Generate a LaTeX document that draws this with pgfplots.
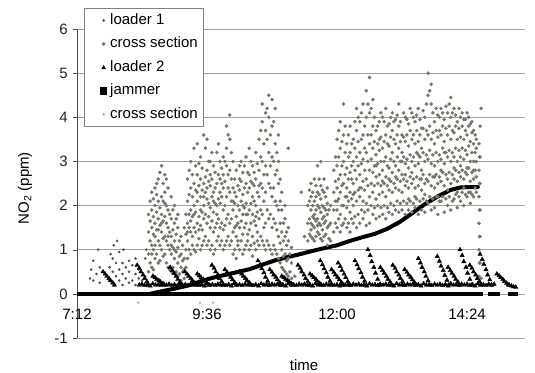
\documentclass[border=0pt]{standalone}
\usepackage{fontspec}
\setmainfont{Liberation Sans}
\usepackage{pgfplots}
\usepackage{pgfplotstable}
\pgfplotsset{compat=1.18}
\usetikzlibrary{calc}
\definecolor{csgray}{RGB}{118,118,104}
\definecolor{ldgray}{RGB}{80,80,75}
\definecolor{cs2gray}{RGB}{170,170,165}
\definecolor{gridgray}{RGB}{160,160,160}

\pgfplotstableread{
t a b c d e f
8.52 0.5 0.9 1.4 1.8 nan nan
8.58 0.6 1.1 1.5 1.9 2.3 0.9
8.64 0.8 1.3 1.6 2.0 2.4 1.1
8.70 0.7 1.2 1.7 2.1 2.6 1.45
8.76 1.0 1.4 1.8 2.2 2.9 1.6
8.82 0.9 1.3 1.75 2.3 2.7 2.05
8.88 0.6 1.1 1.5 1.9 2.4 1.3
8.94 0.5 0.9 1.3 1.7 2.2 1.1
9.00 0.45 0.8 1.2 1.6 2.0 1.0
9.06 0.4 0.7 1.05 1.5 1.8 nan
9.12 0.3 0.6 0.9 1.3 nan nan
9.18 0.35 0.55 0.8 1.5 nan nan
9.24 0.8 1.2 1.6 2.1 2.6 1.4
9.30 0.9 1.4 1.9 2.4 3.0 1.65
9.36 1.0 1.5 2.0 2.5 3.3 1.8
9.42 1.1 1.6 2.1 2.7 3.4 2.3
9.48 1.0 1.55 2.2 2.6 3.1 1.9
9.54 1.2 1.7 2.0 2.5 3.6 2.2
9.60 1.1 1.6 2.15 2.8 3.5 2.4
9.66 1.0 1.5 1.95 2.45 3.0 2.7
9.72 0.9 1.4 1.85 2.3 2.9 2.1
9.78 1.2 1.6 2.0 2.5 3.2 1.8
9.84 1.1 1.5 2.05 2.6 3.0 2.3
9.90 1.0 1.45 1.9 2.4 3.1 2.7
9.96 1.2 1.7 2.2 2.9 3.8 3.3
10.02 1.1 1.6 2.3 2.8 4.05 3.5
10.08 0.9 1.4 1.9 2.4 3.0 2.1
10.14 0.8 1.3 1.75 2.2 2.8 1.55
10.20 1.0 1.5 1.9 2.35 2.9 2.6
10.26 0.9 1.35 1.8 2.25 2.75 2.0
10.32 1.1 1.6 2.05 2.5 3.1 1.8
10.38 1.0 1.45 1.9 2.4 3.3 2.7
10.44 0.85 1.3 1.8 2.2 2.9 2.5
10.50 1.0 1.55 2.0 2.6 3.2 1.75
10.56 1.1 1.7 2.2 2.8 3.5 2.45
10.62 1.2 1.8 2.4 3.0 3.9 4.3
10.68 1.0 1.6 2.3 2.9 3.7 4.1
10.74 1.1 1.7 2.5 3.2 4.0 4.5
10.80 0.9 1.5 2.2 3.1 3.8 4.4
10.86 1.0 1.6 2.1 2.7 3.4 4.2
10.92 0.8 1.3 1.9 2.5 3.0 3.6
10.98 0.6 1.0 1.4 1.9 2.3 nan
11.04 0.5 0.9 1.3 1.7 2.0 nan
11.10 0.4 0.8 1.2 1.5 3.3 nan
11.16 0.35 0.7 1.05 nan nan nan
11.22 0.4 nan nan nan nan nan
11.34 0.5 2.3 nan nan nan nan
11.40 1.3 nan nan nan nan nan
11.46 1.2 1.6 2.0 nan nan nan
11.52 1.3 1.6 1.9 2.2 2.5 1.45
11.58 1.2 1.5 1.8 2.1 2.6 1.7
11.64 1.4 1.7 2.0 2.3 2.9 1.55
11.70 1.25 1.55 1.85 2.15 2.45 3.0
11.76 1.3 1.6 1.95 2.3 2.6 1.75
11.82 1.1 1.5 1.8 2.05 2.4 nan
11.88 1.2 1.6 2.0 nan nan nan
11.94 1.4 1.9 2.3 2.8 nan nan
12.00 1.5 1.9 2.4 2.9 3.5 2.1
12.06 1.4 1.8 2.3 2.7 3.3 3.9
12.12 1.6 2.0 2.5 3.0 3.6 4.3
12.18 1.5 1.95 2.4 2.85 3.4 2.2
12.24 1.4 1.85 2.3 2.75 3.2 3.8
12.30 1.6 2.0 2.5 3.0 3.5 2.25
12.36 1.5 2.1 2.6 3.1 3.7 4.2
12.42 1.6 2.2 2.7 3.2 3.9 2.4
12.48 1.7 2.1 2.55 3.05 3.6 4.3
12.54 1.55 2.05 2.6 3.2 4.0 4.6
12.60 1.6 2.2 2.8 3.4 4.1 4.9
12.66 1.8 2.3 2.75 3.3 3.8 4.4
12.72 1.7 2.15 2.65 3.15 3.7 2.9
12.78 1.75 2.25 2.7 3.25 3.9 3.5
12.84 1.8 2.3 2.8 3.3 4.0 2.55
12.90 1.7 2.2 2.65 3.1 3.6 4.2
12.96 1.85 2.35 2.85 3.35 3.85 2.6
13.02 1.8 2.3 2.75 3.2 3.7 4.1
13.08 1.9 2.4 2.9 3.4 3.95 2.65
13.14 1.85 2.35 2.8 3.3 3.8 4.3
13.20 1.9 2.3 2.7 3.2 3.6 3.0
13.26 1.8 2.45 2.95 3.45 4.0 2.7
13.32 1.9 2.4 2.85 3.35 3.85 2.15
13.38 1.85 2.5 3.0 3.5 4.1 2.75
13.44 1.95 2.4 2.9 3.4 3.9 2.2
13.50 1.8 2.45 2.95 3.45 4.2 3.15
13.56 1.9 2.35 2.8 3.3 3.75 2.6
13.62 1.85 2.5 3.0 3.5 4.0 2.25
13.68 2.05 2.55 3.05 3.6 4.5 5.0
13.74 1.9 2.45 2.95 3.5 4.3 4.75
13.80 1.95 2.4 2.9 3.4 3.9 2.65
13.86 1.8 2.5 3.0 3.55 4.05 2.2
13.92 2.1 2.55 3.05 3.6 4.2 2.8
13.98 1.85 2.45 2.95 3.45 3.95 3.2
14.04 2.0 2.6 3.1 3.6 4.1 2.35
14.10 1.9 2.5 3.0 3.5 4.45 4.0
14.16 2.15 2.6 3.1 3.65 4.2 2.85
14.22 1.95 2.55 3.0 3.5 3.9 2.3
14.28 2.1 2.65 3.1 3.55 4.0 2.9
14.34 2.0 2.6 3.05 3.5 3.95 2.4
14.40 2.2 2.7 3.15 3.6 4.1 2.85
14.46 2.05 2.55 3.0 3.45 3.85 2.3
14.52 2.2 2.6 3.0 3.4 3.7 2.8
14.57 2.3 2.65 3.0 3.3 3.5 nan
14.62 0.4 1.0 1.6 2.2 2.8 3.4
14.64 0.7 1.3 1.9 2.5 3.1 3.8
14.66 4.2 0.35 nan nan nan nan
}\cloud

\pgfplotstableread{
t a b c d e
8.55 0.7 1.2 1.65 2.1 nan
8.61 0.55 1.0 1.35 1.75 2.15
8.67 0.9 1.45 1.85 2.25 2.5
8.73 0.75 1.1 1.55 1.95 2.75
8.79 0.85 1.25 1.65 2.1 2.5
8.85 0.7 1.2 1.6 2.0 2.6
8.91 0.55 1.0 1.4 1.8 nan
8.97 0.6 1.05 1.45 1.9 nan
9.03 0.5 0.95 1.35 1.7 nan
9.09 0.45 0.85 1.2 nan nan
9.15 0.5 0.75 1.1 nan nan
9.21 0.6 1.0 1.35 1.8 nan
9.27 1.0 1.5 1.8 2.25 2.8
9.33 1.1 1.3 1.75 2.2 2.7
9.39 0.95 1.4 1.85 2.35 2.9
9.45 1.25 1.75 2.45 2.95 1.45
9.51 1.1 1.45 1.85 2.35 2.85
9.57 1.3 1.8 2.3 2.65 3.3
9.63 1.2 1.75 2.05 2.55 3.0
9.69 1.1 1.65 2.2 2.6 3.2
9.75 1.0 1.5 2.05 2.4 2.75
9.81 1.3 1.7 2.15 2.7 3.4
9.87 1.2 1.6 2.2 2.5 2.85
9.93 1.1 1.55 2.0 2.55 3.0
9.99 1.3 1.8 2.4 2.7 3.6
10.05 1.2 1.7 2.1 2.6 3.2
10.11 1.0 1.5 2.05 2.6 2.3
10.17 1.1 1.6 2.0 2.45 1.2
10.23 1.2 1.65 2.1 2.55 3.0
10.29 1.0 1.5 1.95 2.4 2.9
10.35 1.2 1.35 1.8 2.3 2.75
10.41 1.1 1.6 2.05 2.55 3.0
10.47 1.15 1.65 2.1 2.45 2.75
10.53 1.2 1.4 1.85 2.3 2.95
10.59 1.3 1.9 2.5 3.1 3.7
10.65 1.1 1.5 2.1 2.7 3.4
10.71 1.2 1.9 2.7 3.5 4.2
10.77 1.0 1.8 2.4 2.9 3.6
10.83 1.1 1.7 2.4 3.0 3.9
10.89 0.9 1.45 2.0 2.8 3.2
10.95 0.7 1.15 1.6 2.1 2.6
11.01 0.55 0.85 1.2 1.6 nan
11.07 0.45 0.75 1.1 1.4 nan
11.13 0.5 0.9 nan nan nan
11.49 1.35 1.7 2.1 2.35 nan
11.55 1.25 1.55 1.75 2.0 2.3
11.61 1.3 1.65 1.9 2.2 2.45
11.67 1.35 1.6 1.95 2.25 2.6
11.73 1.2 1.45 1.7 2.0 2.35
11.79 1.35 1.65 1.9 2.2 nan
11.85 1.25 1.55 1.9 nan nan
11.97 1.6 2.1 2.55 3.1 nan
12.03 1.7 2.15 2.6 3.1 3.7
12.09 1.55 2.0 2.45 2.9 3.45
12.15 1.7 2.2 2.7 3.2 3.8
12.21 1.6 2.1 2.6 3.1 3.6
12.27 1.7 2.15 2.6 2.9 3.4
12.33 1.75 2.3 2.8 3.3 3.9
12.39 1.8 2.35 2.9 3.45 4.0
12.45 1.9 2.4 2.95 3.5 4.1
12.51 1.85 2.35 2.8 3.3 3.8
12.57 1.9 2.45 3.0 3.6 4.3
12.63 2.0 2.5 3.05 3.6 4.2
12.69 1.95 2.45 2.9 3.45 4.0
12.75 2.0 2.5 2.95 3.4 3.8
12.81 1.95 2.45 3.0 3.55 4.1
12.87 2.0 2.5 3.0 3.45 3.9
12.93 1.95 2.45 2.9 3.4 3.8
12.99 2.05 2.55 3.05 3.55 4.0
13.05 2.0 2.5 3.0 3.5 3.9
13.11 2.1 2.6 3.1 3.6 4.05
13.17 2.05 2.55 3.0 3.45 3.9
13.23 2.1 2.6 3.1 3.55 4.1
13.29 2.05 2.55 3.05 3.6 3.95
13.35 2.1 2.65 3.15 3.7 4.2
13.41 2.05 2.6 3.1 3.6 4.0
13.47 2.15 2.65 3.2 3.7 4.05
13.53 2.1 2.6 3.1 3.6 3.95
13.59 2.15 2.7 3.2 3.75 4.15
13.65 2.1 2.6 3.15 3.7 4.3
13.71 2.2 2.7 3.25 3.8 4.6
13.77 2.15 2.65 3.15 3.65 4.1
13.83 2.2 2.7 3.2 3.7 4.2
13.89 2.1 2.65 3.15 3.7 4.0
13.95 2.2 2.75 3.3 3.8 4.1
14.01 2.15 2.7 3.2 3.75 4.25
14.07 2.2 2.75 3.25 3.8 4.3
14.13 2.1 2.7 3.2 3.7 4.1
14.19 2.25 2.8 3.3 3.8 4.05
14.25 2.2 2.75 3.25 3.75 4.2
14.31 2.3 2.8 3.3 3.8 4.1
14.37 2.25 2.75 3.25 3.7 3.95
14.43 2.3 2.85 3.35 3.8 4.0
14.49 2.25 2.75 3.2 3.65 3.9
14.55 2.4 2.8 3.2 3.6 nan
14.63 0.7 1.3 1.9 2.5 3.1
}\cloudb

\begin{document}
\fontsize{15}{18}\selectfont
\begin{tikzpicture}
\begin{axis}[
  scale only axis, width=448pt, height=309pt,
  xmin=7.2, xmax=15.47, ymin=-1, ymax=6,
  axis x line*=bottom, axis y line*=left,
  axis line style={-},
  x axis line style={draw=gridgray},
  y axis line style={draw=black!70},
  xtick={7.2,9.6,12,14.4}, xticklabels={7:12,9:36,12:00,14:24},
  ytick={-1,0,1,2,3,4,5,6},
  ymajorgrids, grid style={gridgray, line width=0.6pt},
  tick align=outside,
  x tick style={draw=none},
  y tick style={black!70},
  major tick length=4pt,
  xticklabel style={anchor=center, yshift=28pt},
  yticklabel style={text=black!85},
  /pgf/number format/assume math mode=true,
  xlabel={time},
  xlabel style={at={(axis description cs:0.507,-0.087)}, anchor=center},
  ylabel={NO\textsubscript{2} (ppm)},
  ylabel style={at={(axis description cs:-0.116,0.485)}, anchor=center},
  legend cell align=left,
  legend style={at={(axis description cs:0.0156,1.068)}, anchor=north west,
    draw=gray, fill=white, row sep=7pt, inner xsep=4pt, inner ysep=4pt,
    nodes={inner sep=1.5pt, text height=10.5pt, text depth=3pt}},
  legend image code/.code={\path (0pt,0pt) (16.5pt,0pt); \draw[#1] plot coordinates {(13.5pt,0pt)};},
  cs/.style={only marks, mark=*, mark size=1.6pt, color=csgray},
]
% loader 1
\addplot[only marks, mark=*, mark size=1.1pt, color=ldgray] coordinates {
(7.44,0.35)(7.46,0.55)(7.50,0.30)(7.50,0.75)(7.59,1.0)(7.56,0.45)(7.62,0.25)(7.62,0.6)
(7.80,0.3)(7.80,0.6)(7.82,0.9)(7.86,0.25)(7.86,0.5)(7.86,0.8)(7.88,1.1)(7.92,0.4)
(7.92,0.7)(7.94,1.2)(7.98,0.3)(7.98,0.55)(7.98,0.95)(8.04,0.2)(8.04,0.45)(8.04,0.7)
(8.06,1.0)(8.10,0.35)(8.10,0.6)(8.16,0.25)(8.16,0.5)(8.16,0.75)(8.22,0.3)(8.22,0.65)
(8.28,0.2)(8.28,0.45)(8.28,0.8)(8.34,0.35)(8.34,0.55)(8.40,0.3)(8.46,0.4)(8.46,0.8)(8.48,1.0)};
\addlegendentry{loader 1}
% cross section (cloud)
\addplot[cs] table[x=t,y=a] {\cloud};
\addlegendentry{cross section}
\addplot[cs, forget plot] table[x=t,y=b] {\cloud};
\addplot[cs, forget plot] table[x=t,y=c] {\cloud};
\addplot[cs, forget plot] table[x=t,y=d] {\cloud};
\addplot[cs, forget plot] table[x=t,y=e] {\cloud};
\addplot[cs, forget plot] table[x=t,y=f] {\cloud};
\addplot[cs, forget plot] table[x=t,y=a] {\cloudb};
\addplot[cs, forget plot] table[x=t,y=b] {\cloudb};
\addplot[cs, forget plot] table[x=t,y=c] {\cloudb};
\addplot[cs, forget plot] table[x=t,y=d] {\cloudb};
\addplot[cs, forget plot] table[x=t,y=e] {\cloudb};
% loader 2
\addplot[only marks, mark=triangle*, mark size=2.5pt, color=black,
  legend image code/.code={\path (0pt,0pt) (16.5pt,0pt); \fill[black] (11.6pt,-1.5pt) -- (15.4pt,-1.5pt) -- (13.5pt,2pt) -- cycle;}] coordinates {
(7.68,.50)(7.72,.45)(7.75,.40)(7.79,.35)(7.82,.30)(7.86,.25)(7.89,.20)
(8.31,.65)(8.35,.58)(8.38,.50)(8.42,.43)(8.45,.35)(8.49,.28)(8.52,.20)
(8.60,.40)(8.64,.37)(8.67,.33)(8.71,.30)(8.74,.27)(8.78,.23)(8.81,.20)
(8.92,.60)(8.96,.53)(8.99,.47)(9.03,.40)(9.06,.33)(9.10,.27)(9.13,.20)
(9.19,.50)(9.23,.45)(9.26,.40)(9.30,.35)(9.33,.30)(9.37,.25)(9.40,.20)
(9.42,.45)(9.46,.41)(9.49,.37)(9.53,.33)(9.56,.28)(9.60,.24)(9.63,.20)
(9.69,.65)(9.73,.58)(9.76,.50)(9.80,.43)(9.83,.35)(9.87,.28)(9.90,.20)
(9.93,.55)(9.97,.49)(10.00,.43)(10.04,.38)(10.07,.32)(10.11,.26)(10.14,.20)
(10.20,.50)(10.24,.45)(10.27,.40)(10.31,.35)(10.34,.30)(10.38,.25)(10.41,.20)
(10.54,.75)(10.58,.66)(10.61,.57)(10.65,.48)(10.68,.38)(10.72,.29)(10.75,.20)
(10.76,.55)(10.80,.49)(10.83,.43)(10.87,.38)(10.90,.32)(10.94,.26)(10.97,.20)
(10.98,.40)(11.02,.37)(11.05,.33)(11.09,.30)(11.12,.27)(11.16,.23)(11.19,.20)
(11.28,.65)(11.32,.58)(11.35,.50)(11.39,.43)(11.42,.35)(11.46,.28)(11.49,.20)
(11.50,.45)(11.54,.41)(11.57,.37)(11.61,.33)(11.64,.28)(11.68,.24)(11.71,.20)
(11.69,.75)(11.73,.66)(11.76,.57)(11.80,.48)(11.83,.38)(11.87,.29)(11.90,.20)
(11.90,.55)(11.94,.49)(11.97,.43)(12.01,.38)(12.04,.32)(12.08,.26)(12.11,.20)
(12.02,.70)(12.06,.62)(12.09,.53)(12.13,.45)(12.16,.37)(12.20,.28)(12.23,.20)
(12.33,.75)(12.37,.66)(12.40,.57)(12.44,.48)(12.47,.38)(12.51,.29)(12.54,.20)
(12.57,1.00)(12.61,.87)(12.64,.73)(12.68,.60)(12.71,.47)(12.75,.33)(12.78,.20)
(12.80,.60)(12.84,.53)(12.87,.47)(12.91,.40)(12.94,.33)(12.98,.27)(13.01,.20)
(13.03,.65)(13.07,.58)(13.10,.50)(13.14,.43)(13.17,.35)(13.21,.28)(13.24,.20)
(13.25,.55)(13.29,.49)(13.32,.43)(13.36,.38)(13.39,.32)(13.43,.26)(13.46,.20)
(13.50,.80)(13.54,.70)(13.57,.60)(13.61,.50)(13.64,.40)(13.68,.30)(13.71,.20)
(13.85,.85)(13.89,.74)(13.92,.63)(13.96,.53)(13.99,.42)(14.03,.31)(14.06,.20)
(14.05,.60)(14.09,.53)(14.12,.47)(14.16,.40)(14.19,.33)(14.23,.27)(14.26,.20)
(14.27,1.00)(14.31,.87)(14.34,.73)(14.38,.60)(14.41,.47)(14.45,.33)(14.48,.20)
(14.45,.65)(14.49,.58)(14.52,.50)(14.56,.43)(14.59,.35)(14.63,.28)(14.66,.20)
(14.64,.90)(14.68,.78)(14.71,.67)(14.75,.55)(14.78,.43)(14.82,.32)(14.85,.20)
(14.95,.45)(14.99,.41)(15.02,.37)(15.06,.33)(15.09,.28)(15.13,.24)(15.16,.20)
(15.18,.20)(15.22,.18)(15.26,.16)(15.30,.15)
(8.35,.20)(8.40,.22)(8.45,.19)(8.50,.21)(8.55,.18)(8.60,.23)(8.65,.20)(8.70,.21)(8.75,.19)(8.80,.22)
(8.85,.20)(8.90,.22)(8.95,.19)(9.00,.21)(9.05,.18)(9.10,.23)(9.15,.20)(9.20,.21)(9.25,.19)(9.30,.22)
(9.35,.20)(9.40,.22)(9.45,.19)(9.50,.21)(9.55,.18)(9.60,.23)(9.65,.20)(9.70,.21)(9.75,.19)(9.80,.22)
(9.85,.20)(9.90,.22)(9.95,.19)(10.00,.21)(10.05,.18)(10.10,.23)(10.15,.20)(10.20,.21)(10.25,.19)(10.30,.22)
(10.35,.20)(10.40,.22)(10.45,.19)(10.50,.21)(10.55,.18)(10.60,.23)(10.65,.20)(10.70,.21)(10.75,.19)(10.80,.22)
(10.85,.20)(10.90,.22)(10.95,.19)(11.00,.21)(11.05,.18)(11.10,.23)(11.15,.20)(11.20,.21)(11.25,.19)(11.30,.22)
(11.35,.20)(11.40,.22)(11.45,.19)(11.50,.21)(11.55,.18)(11.60,.23)(11.65,.20)(11.70,.21)(11.75,.19)(11.80,.22)
(11.85,.20)(11.90,.22)(11.95,.19)(12.00,.21)(12.05,.18)(12.10,.23)(12.15,.20)(12.20,.21)(12.25,.19)(12.30,.22)
(12.35,.20)(12.40,.22)(12.45,.19)(12.50,.21)(12.55,.18)(12.60,.23)(12.65,.20)(12.70,.21)(12.75,.19)(12.80,.22)
(12.85,.20)(12.90,.22)(12.95,.19)(13.00,.21)(13.05,.18)(13.10,.23)(13.15,.20)(13.20,.21)(13.25,.19)(13.30,.22)
(13.35,.20)(13.40,.22)(13.45,.19)(13.50,.21)(13.55,.18)(13.60,.23)(13.65,.20)(13.70,.21)(13.75,.19)(13.80,.22)
(13.85,.20)(13.90,.22)(13.95,.19)(14.00,.21)(14.05,.18)(14.10,.23)(14.15,.20)(14.20,.21)(14.25,.19)(14.30,.22)
(14.35,.20)(14.40,.22)(14.45,.19)(14.50,.21)(14.55,.18)(14.60,.23)(14.65,.20)(14.70,.21)(14.75,.19)(14.80,.22)
(14.85,.20)(14.90,.22)};
\addlegendentry{loader 2}
% jammer
\addplot[black, line width=4pt, mark=none, unbounded coords=jump,
  legend image code/.code={\path (0pt,0pt) (16.5pt,0pt); \fill[black] (11.8pt,-1.7pt) rectangle (15.2pt,1.7pt);}] coordinates {
(7.2,0)(14.70,0)(14.74,nan)(14.79,0)(15.01,0)(15.08,nan)(15.16,0)(15.34,0)};
\addlegendentry{jammer}
\addplot[black, line width=4pt, mark=none, line join=round, line cap=round, forget plot] coordinates {
(8.55,0.0)(8.73,0.05)(9.01,0.12)(9.29,0.2)(9.47,0.28)(9.69,0.36)(9.93,0.43)(10.15,0.49)
(10.39,0.56)(10.62,0.66)(10.86,0.76)(11.08,0.83)(11.32,0.9)(11.54,0.97)(11.78,1.04)
(12.0,1.1)(12.24,1.2)(12.46,1.28)(12.7,1.36)(12.92,1.47)(13.16,1.63)(13.38,1.82)
(13.62,2.03)(13.85,2.2)(14.09,2.35)(14.27,2.41)(14.46,2.42)(14.6,2.42)};
% cross section 2
\addplot[only marks, mark=*, mark size=1.0pt, color=cs2gray] coordinates {
(8.33,-0.2)(9.47,-0.2)(9.71,-0.2)};
\addlegendentry{cross section}
\end{axis}
\pgfresetboundingbox
\path[use as bounding box] ($(current axis.south west)+(-77pt,-35pt)$) rectangle ($(current axis.north east)+(10pt,29pt)$);
\end{tikzpicture}
\end{document}
